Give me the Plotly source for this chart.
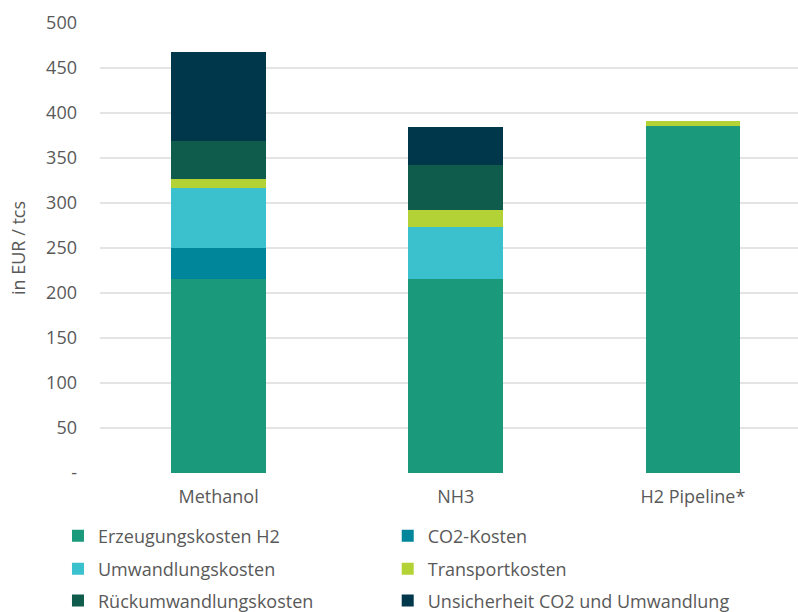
import plotly.graph_objects as go

# Cost components per transport route (EUR per tonne)
routes = ["Methanol", "NH3", "H2 Pipeline*"]
erzeugung_h2 = [216, 216, 386]
co2_kosten = [34, 0, 0]
umwandlung = [67, 57, 0]
transport = [10, 19, 5]
rueckumwandlung = [42, 50, 0]
unsicherheit = [99, 43, 0]

series_names = [
    "Erzeugungskosten H2",
    "CO2-Kosten",
    "Umwandlungskosten",
    "Transportkosten",
    "Rückumwandlungskosten",
    "Unsicherheit CO2 und Umwandlung",
]
series_values = [erzeugung_h2, co2_kosten, umwandlung, transport, rueckumwandlung, unsicherheit]
series_colors = ["#1a9a7b", "#00869a", "#3ac1cd", "#b3d236", "#0f5c4c", "#00374b"]

y_tickvals = [0, 50, 100, 150, 200, 250, 300, 350, 400, 450, 500]
y_ticktext = ["-", "50", "100", "150", "200", "250", "300", "350", "400", "450", "500"]

FONT = "Open Sans"
FONT_SIZE = 18
TEXT_COLOR = "#595959"

# Each legend entry gets its own legend box, laid out as two columns of three rows
legend_ids = ["legend", "legend2", "legend3", "legend4", "legend5", "legend6"]
legend_x = [-0.0602, 0.4122, -0.0602, 0.4122, -0.0602, 0.4122]
legend_y = [-0.140, -0.140, -0.2135, -0.2135, -0.284, -0.284]

fig = go.Figure()
for name, vals, color, lid in zip(series_names, series_values, series_colors, legend_ids):
    fig.add_trace(go.Bar(
        x=routes,
        y=vals,
        name=name,
        marker=dict(color=color, line=dict(width=0)),
        legend=lid,
    ))

layout_legends = {}
for lid, lx, ly in zip(legend_ids, legend_x, legend_y):
    layout_legends[lid] = dict(
        x=lx, y=ly, xanchor="left", yanchor="middle",
        orientation="v",
        font=dict(family=FONT, size=FONT_SIZE, color=TEXT_COLOR),
        bgcolor="rgba(0,0,0,0)",
        borderwidth=0,
    )

fig.update_layout(
    width=798,
    height=612,
    barmode="stack",
    bargap=0.6,
    plot_bgcolor="white",
    paper_bgcolor="white",
    margin=dict(l=100, r=0, t=23, b=139, autoexpand=False),
    font=dict(family=FONT, size=FONT_SIZE, color=TEXT_COLOR),
    showlegend=True,
    **layout_legends,
)

fig.update_xaxes(
    range=[-0.5, 2.443],
    showgrid=False,
    showline=False,
    zeroline=False,
    ticks="",
    ticklabelstandoff=11,
    tickfont=dict(family=FONT, size=FONT_SIZE, color=TEXT_COLOR),
)

fig.update_yaxes(
    range=[0, 500],
    tickvals=y_tickvals,
    ticktext=y_ticktext,
    showgrid=True,
    gridcolor="#e4e4e4",
    gridwidth=2,
    zeroline=False,
    showline=False,
    ticks="",
    ticklabelstandoff=22,
    tickfont=dict(family=FONT, size=FONT_SIZE, color=TEXT_COLOR),
    title=dict(text="in EUR / tcs", standoff=15,
               font=dict(family=FONT, size=FONT_SIZE, color=TEXT_COLOR)),
    automargin=False,
)

fig.write_html("out.html")
